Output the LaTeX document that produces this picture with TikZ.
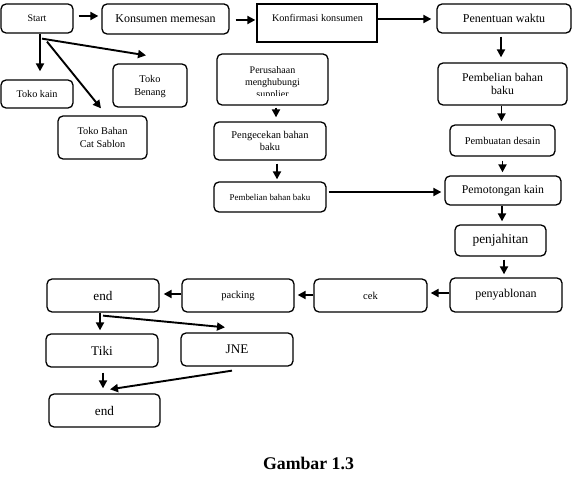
\documentclass[tikz,border=0pt]{standalone}
\usepackage{fontspec}
\setmainfont{Liberation Serif}
\usetikzlibrary{arrows.meta}
\newcommand{\fsz}[1]{\fontsize{#1}{#1}\selectfont}
\tikzset{
  bx/.style={draw=black, line width=1.3pt, rounded corners=5pt, inner sep=0pt, align=center},
  sq/.style={draw=black, line width=1.3pt, inner sep=0pt},
  txt/.style={inner sep=0pt, align=center},
  arr/.style={line width=1.9pt, -{Triangle[length=8pt,width=8pt]}},
}
\begin{document}
\begin{tikzpicture}[x=1pt,y=-1pt]
\useasboundingbox (0,0) rectangle (573,489);
% top row
\node[bx, minimum width=72pt, minimum height=29pt, font=\fsz{10}] (start) at (37,18.5) {Start};
\node[bx, minimum width=127pt, minimum height=30pt, font=\fsz{12}] (kons) at (165.5,19) {Konsumen memesan};
\node[sq, minimum width=120pt, minimum height=38pt] (konf) at (317,23) {};
\node[txt, font=\fsz{10.2}] (konft) at (317.5,17.5) {Konfirmasi konsumen};
\node[bx, minimum width=134pt, minimum height=29pt, font=\fsz{12}] (pene) at (504,18.5) {Penentuan waktu};
% left shops
\node[bx, minimum width=72pt, minimum height=28pt, font=\fsz{10.2}] (kain) at (37,94) {Toko kain};
\node[bx, minimum width=74pt, minimum height=43pt, font=\fsz{10.3}, text depth=0pt] (benang) at (150,85.5) {Toko\\[2pt]Benang};
\node[bx, minimum width=89pt, minimum height=43pt, font=\fsz{10.3}] (bahan) at (102.5,137.5) {Toko Bahan\\[3pt]Cat Sablon};
% middle column
\node[bx, minimum width=111pt, minimum height=51pt] (perus) at (272.5,79.5) {};
\begin{scope}
\clip (215,56) rectangle (330,96);
\node[txt, font=\fsz{10}] (perust) at (272.5,83) {Perusahaan\\[2pt]menghubungi\\[2pt]supplier};
\end{scope}
\node[bx, minimum width=112pt, minimum height=38pt, font=\fsz{10.4}] (penge) at (270,141) {Pengecekan bahan\\[1pt]baku};
\node[bx, minimum width=112pt, minimum height=30pt, font=\fsz{8.9}] (pembS) at (270,197) {Pembelian bahan baku};
% right column
\node[bx, minimum width=129pt, minimum height=42pt, font=\fsz{11.8}] (pembR) at (502.5,84) {Pembelian bahan\\[2pt]baku};
\node[bx, minimum width=105pt, minimum height=31pt, font=\fsz{10.4}] (desain) at (502.5,140.5) {Pembuatan desain};
\node[bx, minimum width=116pt, minimum height=29pt, font=\fsz{11.8}] (pemot) at (503,190.5) {Pemotongan kain};
\node[bx, minimum width=91pt, minimum height=31pt, font=\fsz{13.4}] (penj) at (500.5,240.5) {penjahitan};
\node[bx, minimum width=112pt, minimum height=34pt, font=\fsz{12}] (penya) at (506,295) {penyablonan};
% bottom row
\node[bx, minimum width=113pt, minimum height=33pt, font=\fsz{10.5}] (cek) at (370.5,295.5) {cek};
\node[bx, minimum width=112pt, minimum height=33pt, font=\fsz{10.5}] (pack) at (238,295.5) {packing};
\node[bx, minimum width=112pt, minimum height=33pt, font=\fsz{13.2}] (endA) at (103,295.5) {end};
\node[bx, minimum width=112pt, minimum height=33pt, font=\fsz{13.2}] (tiki) at (102,350.5) {Tiki};
\node[bx, minimum width=112pt, minimum height=33pt, font=\fsz{13.2}] (jne) at (237,349.5) {JNE};
\node[bx, minimum width=111pt, minimum height=33pt, font=\fsz{13.2}] (endB) at (104.5,410.5) {end};
\node[txt, font=\fsz{17.8}\bfseries] (cap) at (308.5,463.5) {Gambar 1.3};
% arrows
\draw[arr, shorten <=5pt, shorten >=3pt] ([yshift=2.5pt]start.east) -- ([yshift=2.5pt]start.east -| kons.west);
\draw[arr, shorten <=6pt, shorten >=1pt] ([yshift=-1pt]kons.east) -- ([yshift=-1pt]kons.east -| konf.west);
\draw[arr, shorten >=5pt] ([yshift=-0.5pt]pene.west -| konf.east) -- ([yshift=-0.5pt]pene.west);
\draw[arr, shorten <=3pt, shorten >=5pt] ([xshift=-3pt]pene.south) -- ([xshift=-3pt]pene.south |- pembR.north);
\draw[arr, shorten >=3pt] ([xshift=-1pt]pembR.south) -- ([xshift=-1pt]desain.north);
\draw[arr, shorten <=4pt, shorten >=3pt] (desain.south) -- (desain.south |- pemot.north);
\draw[arr, shorten >=3pt] ([xshift=-1pt]pemot.south) -- ([xshift=-1pt]pemot.south |- penj.north);
\draw[arr, shorten <=3pt, shorten >=3pt] ([xshift=3.5pt]penj.south) -- ([xshift=3.5pt]penj.south |- penya.north);
\draw[arr, shorten >=3pt] ([yshift=2pt]penya.west) -- ([yshift=2pt]penya.west -| cek.east);
\draw[arr, shorten >=3pt] ([yshift=0.5pt]cek.west) -- ([yshift=0.5pt]cek.west -| pack.east);
\draw[arr, shorten >=4pt] ([yshift=1.5pt]pack.west) -- ([yshift=1.5pt]pack.west -| endA.east);
\draw[arr, shorten >=3pt] ([xshift=-3pt]endA.south) -- ([xshift=-3pt]endA.south |- tiki.north);
\draw[arr] ([yshift=-3pt]endA.south) -- ([xshift=-12pt,yshift=5pt]jne.north);
\draw[arr, shorten <=5pt, shorten >=5pt] ([xshift=1pt]tiki.south) -- ([xshift=1pt]tiki.south |- endB.north);
\draw[arr] ([xshift=-5pt,yshift=-4pt]jne.south) -- ([xshift=5.5pt,yshift=4pt]endB.north);
\draw[arr, shorten >=8pt] ([xshift=3pt]start.south) -- ([xshift=3pt]start.south |- kain.north);
\draw[arr] ([xshift=5pt,yshift=-5pt]start.south) -- ([xshift=-4pt,yshift=8pt]benang.north);
\draw[arr] ([xshift=10pt,yshift=-8pt]start.south) -- ([xshift=-1.5pt,yshift=7pt]bahan.north);
\draw[arr] ([xshift=3.5pt,yshift=-2pt]perus.south) -- ([xshift=6pt,yshift=4pt]penge.north);
\draw[arr] ([xshift=7pt,yshift=-3pt]penge.south) -- ([xshift=7pt,yshift=2pt]pembS.north);
\draw[arr, shorten <=2pt, shorten >=3pt] ([yshift=5pt]pembS.east) -- ([yshift=5pt]pembS.east -| pemot.west);
\end{tikzpicture}
\end{document}
